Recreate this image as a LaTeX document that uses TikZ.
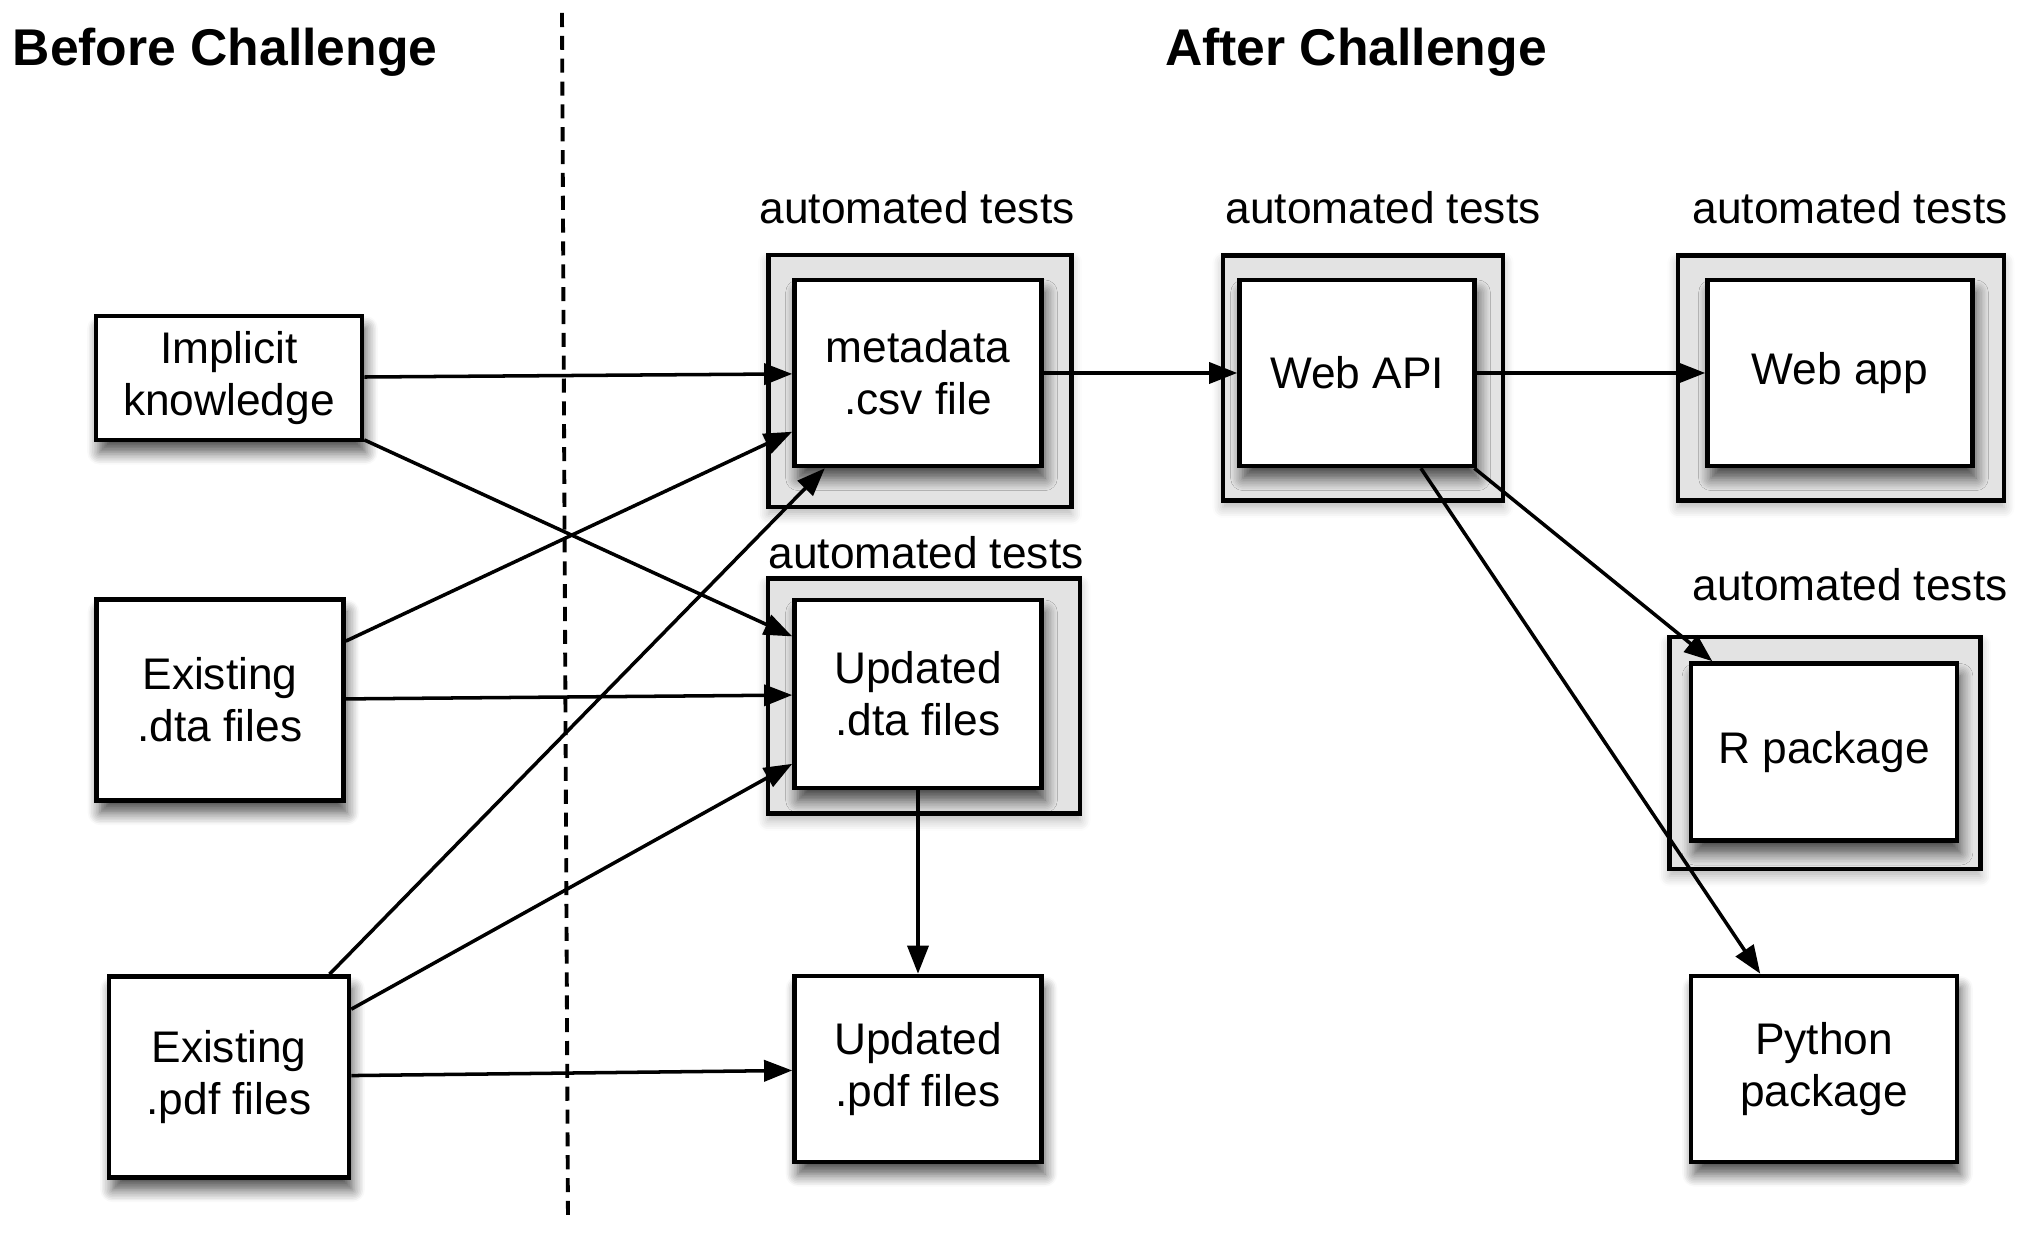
\documentclass[tikz,border=0pt]{standalone}
\usepackage{fontspec}
\setmainfont{Liberation Sans}
\usetikzlibrary{arrows.meta, shadows.blur}

\begin{document}
\begin{tikzpicture}[
		box/.style={draw, line width=1.3pt, fill=white, align=center, inner sep=0pt,
			blur shadow={shadow xshift=1pt, shadow yshift=-3.5pt, shadow blur radius=3.5pt, shadow blur steps=8, shadow opacity=70},
			font=\fontsize{12.6}{14.8}\selectfont},
		outerbox/.style={draw, line width=1.2pt, fill=gray!22, inner sep=0pt,
			blur shadow={shadow xshift=0pt, shadow yshift=-2pt, shadow blur radius=3pt, shadow blur steps=6, shadow opacity=30}},
		tests/.style={font=\fontsize{12.6}{14.8}\selectfont},
		link/.style={-{Triangle[length=8pt,width=6pt]}, line width=1pt},
	]
		\useasboundingbox (0,0) rectangle (20.4,-12.42);
		% titles and separator
		\node[anchor=base west, inner sep=0pt, font=\fontsize{14.7}{17}\selectfont\bfseries] (before) at (0.12,-0.66) {Before Challenge};
		\node[anchor=base, font=\fontsize{14.7}{17}\selectfont\bfseries] (after) at (13.56,-0.66) {After Challenge};
		\coordinate (sepTop) at (5.62,-0.13);
		\coordinate (sepBot) at (5.68,-12.23);
		\draw[line width=1.1pt, dash pattern=on 4pt off 2.5pt] (sepTop) -- (sepBot);

		% test frames
		\node[outerbox, minimum width=3.03cm, minimum height=2.52cm] (metaT) at (9.20,-3.81) {};
		\node[outerbox, minimum width=3.12cm, minimum height=2.35cm] (udtaT) at (9.24,-6.96) {};
		\node[outerbox, minimum width=2.80cm, minimum height=2.45cm] (apiT) at (13.63,-3.78) {};
		\node[outerbox, minimum width=3.26cm, minimum height=2.45cm] (appT) at (18.41,-3.78) {};
		\node[outerbox, minimum width=3.11cm, minimum height=2.32cm] (rpkgT) at (18.25,-7.53) {};
		\node[tests] (metaL) at (9.17,-2.08) {automated tests};
		\node[tests] (udtaL) at (9.26,-5.53) {automated tests};
		\node[tests] (apiL) at (13.83,-2.08) {automated tests};
		\node[tests] (appL) at (18.50,-2.08) {automated tests};
		\node[tests] (rpkgL) at (18.50,-5.85) {automated tests};

		% before
		\node[box, minimum width=2.66cm, minimum height=1.24cm] (impl) at (2.29,-3.78) {Implicit\\knowledge};
		\node[box, minimum width=2.47cm, minimum height=2.01cm] (dta) at (2.20,-7.00) {Existing\\.dta files};
		\node[box, minimum width=2.40cm, minimum height=2.01cm] (pdf) at (2.29,-10.77) {Existing\\.pdf files};

		% after
		\node[box, minimum width=2.47cm, minimum height=1.86cm] (meta) at (9.18,-3.73) {metadata\\.csv file};
		\node[box, minimum width=2.47cm, minimum height=1.88cm] (udta) at (9.18,-6.94) {Updated\\.dta files};
		\node[box, minimum width=2.47cm, minimum height=1.86cm] (updf) at (9.18,-10.69) {Updated\\.pdf files};
		\node[box, minimum width=2.35cm, minimum height=1.86cm] (api) at (13.57,-3.73) {Web API};
		\node[box, minimum width=2.65cm, minimum height=1.86cm] (app) at (18.40,-3.73) {Web app};
		\node[box, minimum width=2.66cm, minimum height=1.77cm] (rpkg) at (18.24,-7.52) {R package};
		\node[box, minimum width=2.66cm, minimum height=1.86cm] (py) at (18.24,-10.69) {Python\\package};

		% links
		\draw[link] (impl) -- (meta);
		\draw[link] (impl) -- (udta);
		\draw[link] (dta) -- (meta);
		\draw[link] (dta) -- (udta);
		\draw[link] (pdf) -- (meta);
		\draw[link] (pdf) -- (udta);
		\draw[link] (pdf) -- (updf);
		\draw[link] (udta) -- (updf);
		\draw[link] (meta) -- (api);
		\draw[link] (api) -- (app);
		\draw[link] (api) -- (rpkg);
		\draw[link] (api) -- (py);
	\end{tikzpicture}
\end{document}
